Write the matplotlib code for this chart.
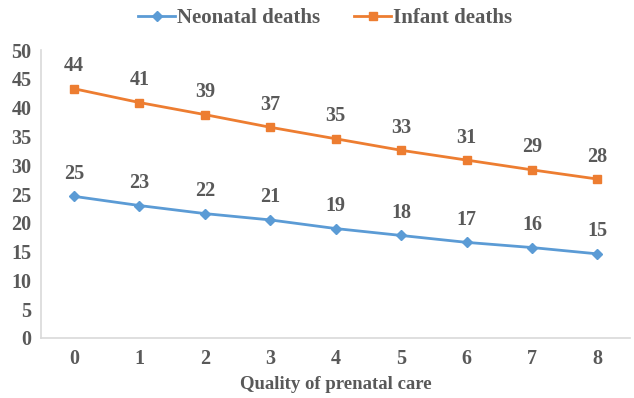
import matplotlib.pyplot as plt

# data
quality = [0, 1, 2, 3, 4, 5, 6, 7, 8]
neonatal = [24.6, 23.0, 21.6, 20.5, 19.0, 17.8, 16.6, 15.7, 14.6]
infant = [43.3, 40.9, 38.8, 36.6, 34.6, 32.6, 30.9, 29.2, 27.6]
neonatal_labels = ['25', '23', '22', '21', '19', '18', '17', '16', '15']
infant_labels = ['44', '41', '39', '37', '35', '33', '31', '29', '28']

plt.rcParams['font.family'] = ['Liberation Serif', 'DejaVu Serif']
plt.rcParams['font.weight'] = 'bold'
txt = '#595959'

fig = plt.figure(figsize=(6.34, 3.98), dpi=100)
ax = fig.add_axes([0.065, 0.151, 0.929, 0.723])

ax.plot(quality, neonatal, color='#5B9BD5', marker='D', markersize=5, linewidth=2, label='Neonatal deaths')
ax.plot(quality, infant, color='#ED7D31', marker='s', markersize=6, linewidth=2, label='Infant deaths')

for x, y, s in zip(quality, neonatal, neonatal_labels):
    ax.annotate(s, (x, y), xytext=(0, 9), textcoords='offset points', ha='center', va='bottom',
                fontsize=14.5, fontweight='bold', color=txt)
for x, y, s in zip(quality, infant, infant_labels):
    ax.annotate(s, (x, y), xytext=(0, 9), textcoords='offset points', ha='center', va='bottom',
                fontsize=14.5, fontweight='bold', color=txt)

ax.set_xlim(-0.5, 8.5)
ax.set_ylim(0, 50)
ax.set_xticks(quality)
ax.set_yticks(range(0, 51, 5))
ax.tick_params(length=0, labelsize=14.5, labelcolor=txt, pad=7)
ax.tick_params(axis='x', pad=8)
for lab in ax.get_xticklabels() + ax.get_yticklabels():
    lab.set_fontweight('bold')

for side in ['top', 'right']:
    ax.spines[side].set_visible(False)
for side in ['left', 'bottom']:
    ax.spines[side].set_color('#D9D9D9')
    ax.spines[side].set_linewidth(1.2)

ax.set_xlabel('Quality of prenatal care', fontsize=13.5, fontweight='bold', color=txt, labelpad=5)

fig.legend(loc='center', bbox_to_anchor=(0.513, 0.955), ncol=2, frameon=False,
           prop={'weight': 'bold', 'size': 15}, labelcolor=txt,
           handlelength=1.8, handletextpad=0.1, columnspacing=1.6)

plt.savefig('out.png', dpi=100)
